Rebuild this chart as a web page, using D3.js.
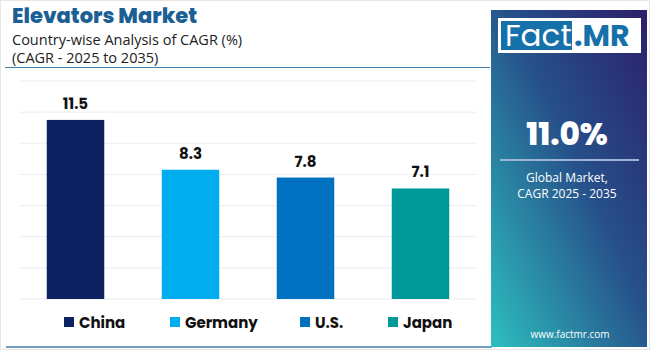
<!DOCTYPE html>
<html>
<head>
<meta charset="utf-8">
<script src="https://cdn.jsdelivr.net/npm/d3@7"></script>
<style>
  body { margin: 0; background: #fff; }
  svg { display: block; font-family: "Open Sans", "Noto Sans", sans-serif; }
</style>
</head>
<body>
<div id="chart"></div>
<script>
const width = 650
const height = 350

// data
const countries = ["China", "Germany", "U.S.", "Japan"]
const cagrValues = [11.5, 8.3, 7.8, 7.1]
const barColors = ["#0c2260", "#00aeef", "#0070c0", "#009999"]
const yTicks = [0, 2, 4, 6, 8, 10, 12, 14]
const globalCagr = "11.0%"

const svg = d3.select("#chart").append("svg")
    .attr("width", width)
    .attr("height", height)

// page frame
svg.append("rect")
    .attr("x", 0.5).attr("y", 0.5)
    .attr("width", width - 1).attr("height", height - 1)
    .attr("fill", "#fff")
    .attr("stroke", "#e6e6e6")

// title block
svg.append("text")
    .attr("x", 12).attr("y", 23)
    .attr("fill", "#1c5f95")
    .attr("font-family", "Poppins, Inter, sans-serif")
    .attr("font-weight", 800)
    .attr("font-size", "21px")
    .text("Elevators Market")

svg.append("text")
    .attr("x", 12).attr("y", 45)
    .attr("fill", "#222")
    .attr("font-size", "14.5px")
    .text("Country-wise Analysis of CAGR (%)")

svg.append("text")
    .attr("x", 12).attr("y", 63)
    .attr("fill", "#222")
    .attr("font-size", "14.5px")
    .text("(CAGR - 2025 to 2035)")

svg.append("line")
    .attr("x1", 5).attr("x2", 490)
    .attr("y1", 67.5).attr("y2", 67.5)
    .attr("stroke", "#3f7fb0")
    .attr("stroke-width", 1.2)

svg.append("line")
    .attr("x1", 6).attr("x2", 492)
    .attr("y1", 347).attr("y2", 347)
    .attr("stroke", "#3f7fb0")
    .attr("stroke-width", 1.5)

// scales
const xScale = d3.scaleBand()
    .domain(countries)
    .range([18, 478])
    .paddingInner(0.5)
    .paddingOuter(0.25)

const yScale = d3.scaleLinear()
    .domain([0, 14])
    .range([299, 81])

const colorScale = d3.scaleOrdinal().domain(countries).range(barColors)

// gridlines
svg.append("g")
    .selectAll("line")
    .data(yTicks)
    .join("line")
    .attr("x1", 20).attr("x2", 476)
    .attr("y1", d => yScale(d)).attr("y2", d => yScale(d))
    .attr("stroke", "#ececf2")
    .attr("stroke-width", 1)

// bars
const barData = countries.map((c, i) => ({ country: c, value: cagrValues[i] }))

svg.append("g")
    .selectAll("rect")
    .data(barData)
    .join("rect")
    .attr("x", d => xScale(d.country))
    .attr("y", d => yScale(d.value))
    .attr("width", xScale.bandwidth())
    .attr("height", d => yScale(0) - yScale(d.value))
    .attr("fill", d => colorScale(d.country))

svg.append("g")
    .selectAll("text")
    .data(barData)
    .join("text")
    .attr("x", d => xScale(d.country) + xScale.bandwidth() / 2)
    .attr("y", d => yScale(d.value) - 11)
    .attr("text-anchor", "middle")
    .attr("fill", "#111")
    .attr("font-family", "Poppins, Inter, sans-serif")
    .attr("font-weight", 700)
    .attr("font-size", "15px")
    .text(d => d.value.toFixed(1))

// legend
const legendX = [64, 170, 300, 388]
const legend = svg.append("g")
    .selectAll("g")
    .data(countries)
    .join("g")
    .attr("transform", (d, i) => `translate(${legendX[i]},322)`)

legend.append("rect")
    .attr("x", 0).attr("y", -5)
    .attr("width", 10).attr("height", 10)
    .attr("fill", d => colorScale(d))

legend.append("text")
    .attr("x", 15).attr("y", 5.5)
    .attr("fill", "#111")
    .attr("font-family", "Poppins, Inter, sans-serif")
    .attr("font-weight", 700)
    .attr("font-size", "15px")
    .text(d => d)

// right panel
const defs = svg.append("defs")
const grad = defs.append("linearGradient")
    .attr("id", "panelGrad")
    .attr("x1", "100%").attr("y1", "0%")
    .attr("x2", "0%").attr("y2", "100%")
grad.append("stop").attr("offset", "0%").attr("stop-color", "#2c1f6b")
grad.append("stop").attr("offset", "45%").attr("stop-color", "#26508a")
grad.append("stop").attr("offset", "100%").attr("stop-color", "#2dbfbf")

svg.append("rect")
    .attr("x", 491).attr("y", 10)
    .attr("width", 156).attr("height", 337)
    .attr("fill", "url(#panelGrad)")

// logo
svg.append("rect")
    .attr("x", 498).attr("y", 18)
    .attr("width", 143).attr("height", 35)
    .attr("fill", "#fff")
svg.append("rect")
    .attr("x", 501).attr("y", 21)
    .attr("width", 71).attr("height", 29)
    .attr("fill", "#1670a9")
svg.append("text")
    .attr("x", 505).attr("y", 46)
    .attr("fill", "#fff")
    .attr("font-family", "Poppins, Inter, sans-serif")
    .attr("font-size", "31px")
    .text("Fact")
svg.append("text")
    .attr("x", 574).attr("y", 46)
    .attr("fill", "#1670a9")
    .attr("font-family", "Poppins, Inter, sans-serif")
    .attr("font-weight", 700)
    .attr("font-size", "30px")
    .text(".MR")

svg.append("text")
    .attr("x", 567).attr("y", 145)
    .attr("text-anchor", "middle")
    .attr("fill", "#fff")
    .attr("font-family", "Poppins, Inter, sans-serif")
    .attr("font-weight", 800)
    .attr("font-size", "31px")
    .text(globalCagr)

svg.append("line")
    .attr("x1", 500).attr("x2", 639)
    .attr("y1", 160).attr("y2", 160)
    .attr("stroke", "#9fb3d6")
    .attr("stroke-width", 2)

svg.append("text")
    .attr("x", 567).attr("y", 182)
    .attr("text-anchor", "middle")
    .attr("fill", "#fff")
    .attr("font-size", "12px")
    .text("Global Market,")
svg.append("text")
    .attr("x", 567).attr("y", 198)
    .attr("text-anchor", "middle")
    .attr("fill", "#fff")
    .attr("font-size", "12px")
    .text("CAGR 2025 - 2035")

svg.append("text")
    .attr("x", 570).attr("y", 338)
    .attr("text-anchor", "middle")
    .attr("fill", "#fff")
    .attr("font-size", "10px")
    .text("www.factmr.com")
</script>
</body>
</html>
